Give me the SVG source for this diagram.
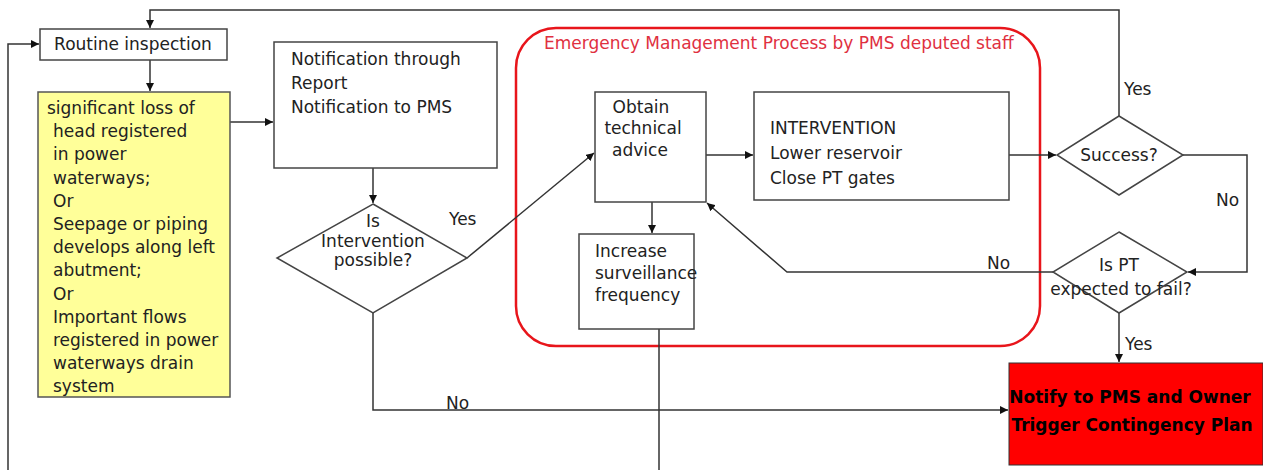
<svg xmlns="http://www.w3.org/2000/svg" width="1263" height="470" viewBox="0 0 1263 470">
<style>
.box{fill:#fff;stroke:#444;stroke-width:1.5}
.ln{fill:none;stroke:#333;stroke-width:1.5}
.t{font-family:"DejaVu Sans",Verdana,sans-serif;font-size:17px;fill:#222}
.c{text-anchor:middle}
.b{font-family:"DejaVu Sans",Verdana,sans-serif;font-size:17px;font-weight:bold;fill:#000;text-anchor:middle}
</style>
<defs>
<marker id="a" viewBox="0 0 10 10" refX="10" refY="5" markerWidth="8" markerHeight="8" orient="auto" markerUnits="userSpaceOnUse"><path d="M0,0 L10,5 L0,10 z" fill="#111"/></marker>
</defs>
<rect width="1263" height="470" fill="#fff"/>
<g id="emergency-group">
<rect x="516" y="28" width="524" height="318" rx="40" fill="none" stroke="#e8151b" stroke-width="2.5"/>
<text class="t" x="544" y="49" style="fill:#e0303f">Emergency Management Process by PMS deputed staff</text>
</g>
<g id="connectors">
<path class="ln" d="M1119,116 V10 H150 V28" marker-end="url(#a)"/>
<path class="ln" d="M8,470 V44 H39" marker-end="url(#a)"/>
<path class="ln" d="M150,60 V91" marker-end="url(#a)"/>
<path class="ln" d="M230,122 H273" marker-end="url(#a)"/>
<path class="ln" d="M373,168 V203" marker-end="url(#a)"/>
<path class="ln" d="M467,258 L594,153" marker-end="url(#a)"/>
<path class="ln" d="M373,313 V410 H1008" marker-end="url(#a)"/>
<path class="ln" d="M706,155 H753" marker-end="url(#a)"/>
<path class="ln" d="M1009,155 H1056" marker-end="url(#a)"/>
<path class="ln" d="M1183,155 H1247 V272 H1188" marker-end="url(#a)"/>
<path class="ln" d="M1053,272 H787 L707,203" marker-end="url(#a)"/>
<path class="ln" d="M652,202 V233" marker-end="url(#a)"/>
<path class="ln" d="M659,329 V470"/>
<path class="ln" d="M1119,313 V362" marker-end="url(#a)"/>
<text class="t" x="449" y="225">Yes</text>
<text class="t" x="446" y="409">No</text>
<text class="t" x="1124" y="95">Yes</text>
<text class="t" x="1216" y="206">No</text>
<text class="t" x="987" y="269">No</text>
<text class="t" x="1125" y="350">Yes</text>
</g>
<g id="routine">
<rect class="box" x="40" y="29" width="187" height="31"/>
<text class="t c" x="133" y="50">Routine inspection</text>
</g>
<g id="conditions">
<rect x="38" y="92" width="192" height="305" fill="#ffff99" stroke="#555" stroke-width="1.5"/>
<text class="t" x="47" y="114">significant loss of</text>
<text class="t" x="53" y="137">head registered</text>
<text class="t" x="53" y="160">in power</text>
<text class="t" x="53" y="184">waterways;</text>
<text class="t" x="53" y="207">Or</text>
<text class="t" x="53" y="230">Seepage or piping</text>
<text class="t" x="53" y="253">develops along left</text>
<text class="t" x="53" y="276">abutment;</text>
<text class="t" x="53" y="300">Or</text>
<text class="t" x="53" y="323">Important flows</text>
<text class="t" x="53" y="346">registered in power</text>
<text class="t" x="53" y="369">waterways drain</text>
<text class="t" x="53" y="392">system</text>
</g>
<g id="notification">
<rect class="box" x="274" y="42" width="223" height="126"/>
<text class="t" x="291" y="65">Notification through</text>
<text class="t" x="291" y="89">Report</text>
<text class="t" x="291" y="113">Notification to PMS</text>
</g>
<g id="intervention-possible">
<polygon class="box" points="373,204 467,258 373,313 277,258"/>
<text class="t c" x="373" y="227">Is</text>
<text class="t c" x="373" y="247">Intervention</text>
<text class="t c" x="373" y="266">possible?</text>
</g>
<g id="obtain-advice">
<rect class="box" x="595" y="92" width="111" height="110"/>
<text class="t c" x="641" y="113">Obtain</text>
<text class="t c" x="643" y="134">technical</text>
<text class="t c" x="640" y="156">advice</text>
</g>
<g id="intervention">
<rect class="box" x="754" y="92" width="255" height="108"/>
<text class="t" x="770" y="134">INTERVENTION</text>
<text class="t" x="770" y="159">Lower reservoir</text>
<text class="t" x="770" y="184">Close PT gates</text>
</g>
<g id="surveillance">
<rect class="box" x="579" y="234" width="115" height="95"/>
<text class="t" x="595" y="257">Increase</text>
<text class="t" x="595" y="279">surveillance</text>
<text class="t" x="595" y="301">frequency</text>
</g>
<g id="success">
<polygon class="box" points="1119,116 1183,155 1119,195 1057,155"/>
<text class="t c" x="1119" y="161">Success?</text>
</g>
<g id="pt-fail">
<polygon class="box" points="1119,232 1187,272 1119,313 1053,272" style="fill:none"/>
<text class="t c" x="1119" y="271">Is PT</text>
<text class="t c" x="1121" y="295">expected to fail?</text>
</g>
<g id="contingency">
<rect x="1009" y="363" width="254" height="102" fill="#ff0000" stroke="#333" stroke-width="1"/>
<text class="b" x="1130" y="403">Notify to PMS and Owner</text>
<text class="b" x="1132" y="431">Trigger Contingency Plan</text>
</g>
</svg>
